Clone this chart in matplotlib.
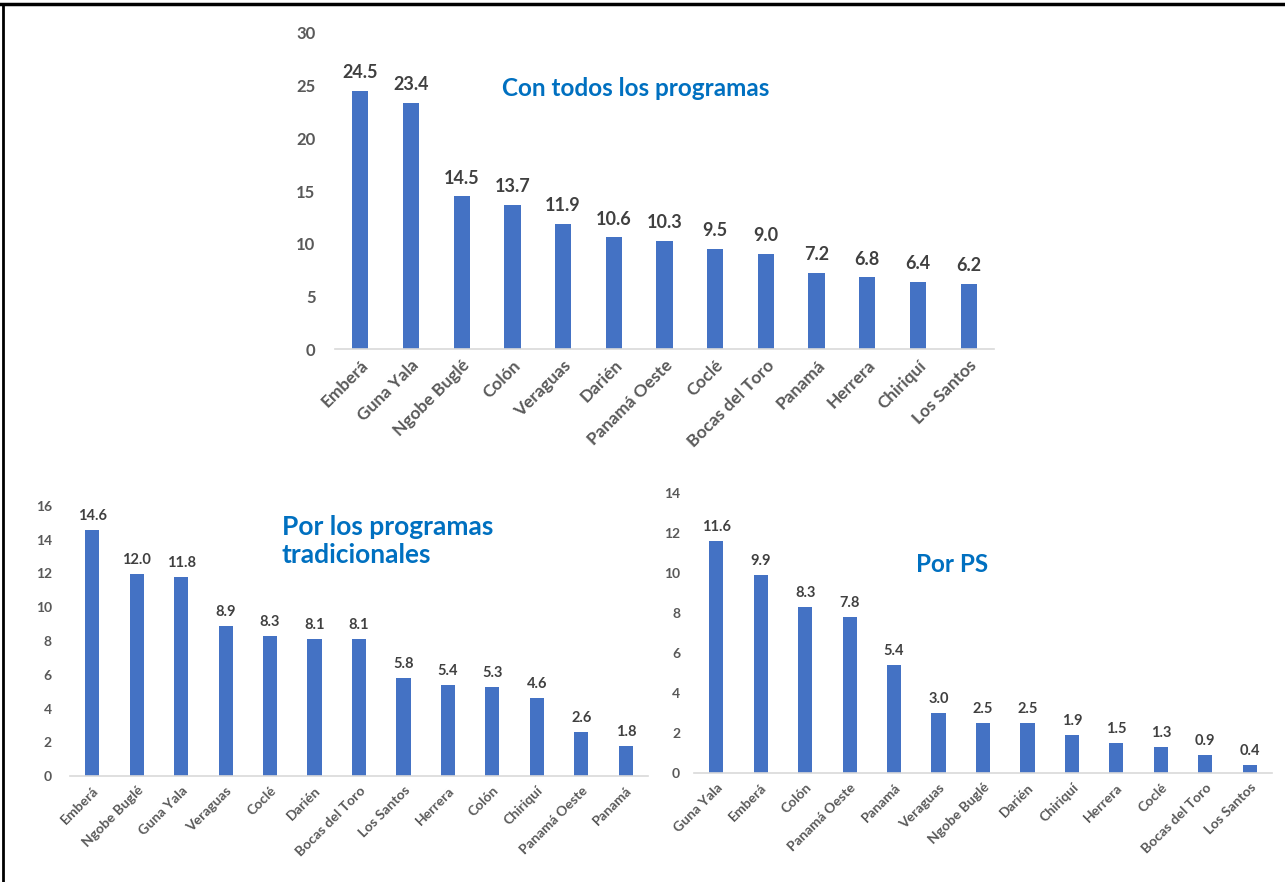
import matplotlib.pyplot as plt
from matplotlib.lines import Line2D

plt.rcParams['font.family'] = ['Lato', 'DejaVu Sans']

# Con todos los programas
cat_total = ["Emberá", "Guna Yala", "Ngobe Buglé", "Colón", "Veraguas", "Darién",
             "Panamá Oeste", "Coclé", "Bocas del Toro", "Panamá", "Herrera",
             "Chiriquí", "Los Santos"]
val_total = [24.5, 23.4, 14.5, 13.7, 11.9, 10.6, 10.3, 9.5, 9.0, 7.2, 6.8, 6.4, 6.2]

# Por los programas tradicionales
cat_trad = ["Emberá", "Ngobe Buglé", "Guna Yala", "Veraguas", "Coclé", "Darién",
            "Bocas del Toro", "Los Santos", "Herrera", "Colón", "Chiriquí",
            "Panamá Oeste", "Panamá"]
val_trad = [14.6, 12.0, 11.8, 8.9, 8.3, 8.1, 8.1, 5.8, 5.4, 5.3, 4.6, 2.6, 1.8]

# Por PS
cat_ps = ["Guna Yala", "Emberá", "Colón", "Panamá Oeste", "Panamá", "Veraguas",
          "Ngobe Buglé", "Darién", "Chiriquí", "Herrera", "Coclé",
          "Bocas del Toro", "Los Santos"]
val_ps = [11.6, 9.9, 8.3, 7.8, 5.4, 3.0, 2.5, 2.5, 1.9, 1.5, 1.3, 0.9, 0.4]

BAR = "#4472C4"
BLUE = "#0070C0"
TICK = "#595959"
LABEL = "#404040"

W, H = 1285, 882
fig = plt.figure(figsize=(W / 100, H / 100), dpi=100)


def box(x0, x1, y_top, y_bot):
    return [x0 / W, 1 - y_bot / H, (x1 - x0) / W, (y_bot - y_top) / H]


def panel(rect, cats, vals, ymax, step, tick_fs, xtick_fs, val_fs, off, voff):
    ax = fig.add_axes(rect)
    x = range(len(cats))
    ax.bar(x, vals, width=0.32, color=BAR)
    ax.set_xlim(-0.5, len(cats) - 0.5)
    ax.set_ylim(0, ymax)
    ax.set_yticks(range(0, ymax + 1, step))
    ax.set_xticks(list(x))
    ax.set_xticklabels(cats, rotation=45, ha="right", rotation_mode="anchor")
    for s in ["top", "right", "left"]:
        ax.spines[s].set_visible(False)
    ax.spines["bottom"].set_color("#D9D9D9")
    ax.spines["bottom"].set_linewidth(1.2)
    ax.tick_params(axis="both", length=0, labelcolor=TICK)
    ax.tick_params(axis="y", pad=off, labelsize=tick_fs)
    ax.tick_params(axis="x", pad=6, labelsize=xtick_fs)
    for lab in ax.get_xticklabels() + ax.get_yticklabels():
        lab.set_fontweight("bold")
    for xi, v in zip(x, vals):
        ax.annotate(f"{v:.1f}", (xi, v), xytext=(0, voff), textcoords="offset points",
                    ha="center", va="bottom", fontsize=val_fs,
                    fontweight="bold", color=LABEL)
    return ax


ax1 = panel(box(335, 994, 33, 349), cat_total, val_total, 30, 5, 12, 12.5, 13, 14, 7)
ax1.text(0.253, 0.825, "Con todos los programas", transform=ax1.transAxes,
         fontsize=17.5, fontweight="bold", color=BLUE, va="center")

ax2 = panel(box(70, 648, 506, 776), cat_trad, val_trad, 16, 2, 10, 10, 10.5, 13, 5)
ax2.text(0.366, 0.87, "Por los programas\ntradicionales", transform=ax2.transAxes,
         fontsize=19, fontweight="bold", color=BLUE, va="center", linespacing=1.2)

ax3 = panel(box(694, 1272, 493, 773), cat_ps, val_ps, 14, 2, 10, 10, 10.5, 10, 5)
ax3.text(0.384, 0.745, "Por PS", transform=ax3.transAxes,
         fontsize=17.5, fontweight="bold", color=BLUE, va="center")

# marco negro superior e izquierdo
fig.add_artist(Line2D([0, 1], [1 - 4 / H, 1 - 4 / H], color="black", lw=2.5))
fig.add_artist(Line2D([3 / W, 3 / W], [0, 1 - 4 / H], color="black", lw=2))

fig.savefig("out.png", dpi=100)
plt.close(fig)
